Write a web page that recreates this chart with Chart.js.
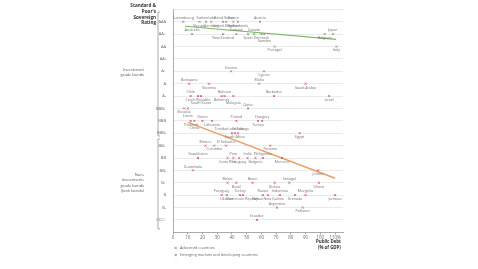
<!DOCTYPE html>
<html>
<head>
<meta charset="utf-8">
<script src="https://cdn.jsdelivr.net/npm/chart.js@4.4.1/dist/chart.umd.min.js"></script>
<style>
html, body { margin: 0; padding: 0; background: #fff; }
</style>
</head>
<body>
<canvas id="grafico" width="478" height="269"></canvas>
<script>
// escala de notas, de baixo para cima
const notas = ['', 'CCC+', 'B-', 'B', 'B+', 'BB-', 'BB', 'BB+', 'BBB-', 'BBB', 'BBB+', 'A-', 'A', 'A+', 'AA-', 'AA', 'AA+', 'AAA', ''];
const ticksX = [0, 10, 20, 30, 40, 50, 60, 70, 80, 90, 100, 110];
const rotulosX = ['0', '10', '20', '30', '40', '50', '60', '70', '80', '90', '100', '110%'];

// paises avancados
const avancadosNomes = ['Luxembourg', 'Norway', 'Switzerland', 'Germany', 'United States', 'United Kingdom', 'France', 'Netherlands', 'Austria',
  'Australia', 'New Zealand', 'Iceland', 'Spain', 'Canada', 'Denmark', 'Sweden', 'Belgium', 'Japan',
  'Portugal', 'Italy', 'Estonia', 'Cyprus', 'Malta', 'Israel'];
const avancadosDivida = [7, 18, 22.5, 26, 34, 36, 41, 44, 59,
  13, 34, 43, 51, 55, 60, 62, 103, 108.5,
  69, 111, 39.4, 61.8, 58.5, 106];
const avancadosNota = ['AAA', 'AAA', 'AAA', 'AAA', 'AAA', 'AAA', 'AAA', 'AAA', 'AAA',
  'AA+', 'AA+', 'AA+', 'AA+', 'AA+', 'AA+', 'AA+', 'AA+', 'AA+',
  'AA', 'AA', 'A+', 'A+', 'A', 'A-'];

// emergentes e em desenvolvimento
const emergentesNomes = ['Botswana', 'Slovenia', 'Saudi Arabia',
  'Chile', 'Czech Republic', 'South Korea', 'Bahamas', 'Bahrain', 'Malaysia', 'Barbados',
  'Latvia', 'Slovakia', 'Qatar',
  'Thailand', 'China', 'Oman', 'Lithuania', 'Poland', 'Turkey', 'Hungary',
  'Trinidad and Tobago', 'South Africa', 'Croatia', 'Egypt',
  'Mexico', 'Colombia', 'El Salvador', 'Panama',
  'Kazakhstan', 'Costa Rica', 'Peru', 'Uruguay', 'India', 'Bulgaria', 'Philippines', 'Morocco',
  'Guatemala', 'Jordan',
  'Belize', 'Brazil', 'Benin', 'Bolivia', 'Senegal', 'Ghana',
  'Paraguay', 'Ukraine', 'Turkey', 'Dominican Republic', 'Russia', 'Papua New Guinea', 'Indonesia', 'Grenada', 'Mongolia', 'Jamaica',
  'Argentina', 'Pakistan',
  'Ecuador'];
const emergentesDivida = [11, 24.5, 90,
  12, 17, 19, 33, 35, 41, 68.6,
  10, 7.5, 51,
  12, 14.5, 20, 26.5, 43, 57.7, 60.5,
  40, 42, 44, 86,
  22, 28, 36, 66,
  17, 37, 41, 45, 50.6, 56, 61, 74,
  13.6, 98.5,
  37, 43, 54, 69, 79, 99,
  33, 36.5, 45.5, 47.5, 61, 64.5, 72.6, 82.8, 90, 110,
  70.6, 88,
  57];
const emergentesNota = ['A', 'A', 'A',
  'A-', 'A-', 'A-', 'A-', 'A-', 'A-', 'A-',
  'BBB+', 'BBB+', 'BBB+',
  'BBB', 'BBB', 'BBB', 'BBB', 'BBB', 'BBB', 'BBB',
  'BBB-', 'BBB-', 'BBB-', 'BBB-',
  'BB+', 'BB+', 'BB+', 'BB+',
  'BB', 'BB', 'BB', 'BB', 'BB', 'BB', 'BB', 'BB',
  'BB-', 'BB-',
  'B+', 'B+', 'B+', 'B+', 'B+', 'B+',
  'B', 'B', 'B', 'B', 'B', 'B', 'B', 'B', 'B', 'B',
  'B-', 'B-',
  'CCC+'];

// linhas de tendencia
const tendAvancadosX = [8.1, 110.7];
const tendAvancadosY = [16.64, 15.58];
const tendEmergentesX = [10.2, 110];
const tendEmergentesY = [8.88, 4.37];

const fonte = "'Open Sans', sans-serif";

function pontos(nomes, divida, nota) {
  return nomes.map((n, i) => ({ x: divida[i], y: notas.indexOf(nota[i]), nome: n }));
}
function linha(xs, ys) {
  return xs.map((x, i) => ({ x: x, y: ys[i] }));
}

// nomes dos paises: alterna acima/abaixo na linha, e desvia se bater
const rotulosPaises = {
  id: 'rotulosPaises',
  afterDatasetsDraw(chart) {
    const ctx = chart.ctx;
    const sx = chart.scales.x, sy = chart.scales.y;
    const alt = 3.4;
    const ocupados = [];
    ctx.save();
    ctx.font = '3.6px ' + fonte;
    ctx.fillStyle = '#707070';
    ctx.textAlign = 'center';
    ctx.textBaseline = 'middle';
    const todos = [];
    [0, 1].forEach(d => chart.data.datasets[d].data.forEach(p => todos.push(p)));
    todos.sort((a, b) => b.y - a.y || a.x - b.x);
    let linhaAtual = null, k = 0;
    todos.forEach(p => {
      if (p.y !== linhaAtual) { linhaAtual = p.y; k = 0; }
      const px = sx.getPixelForValue(p.x), py = sy.getPixelForValue(p.y);
      const w = ctx.measureText(p.nome).width;
      const s = k % 2 === 0 ? -1 : 1;
      const opcoes = [py + s * 3.8, py - s * 3.8, py + s * 7.2, py - s * 7.2];
      let yEscolhido = opcoes[0];
      for (const yy of opcoes) {
        if (yy < chart.chartArea.top + 2) continue;
        const bate = ocupados.some(b => Math.abs(b.x - px) < (b.w + w) / 2 + 0.6 && Math.abs(b.y - yy) < alt);
        if (!bate) { yEscolhido = yy; break; }
      }
      ocupados.push({ x: px, y: yEscolhido, w: w });
      ctx.fillText(p.nome, px, yEscolhido);
      k++;
    });
    ctx.restore();
  }
};

// titulos, chaves e legenda
const extras = {
  id: 'extras',
  afterDraw(chart) {
    const ctx = chart.ctx;
    ctx.save();
    ctx.fillStyle = '#333';
    ctx.textAlign = 'right';
    ctx.textBaseline = 'middle';
    ctx.font = 'bold 4.6px ' + fonte;
    ['Standard &', "Poor's", 'Sovereign', 'Rating'].forEach((t, i) => ctx.fillText(t, 156, 6 + i * 5.7));

    ctx.font = '4px ' + fonte;
    ctx.fillStyle = '#555';
    ['Investment', 'grade bonds'].forEach((t, i) => ctx.fillText(t, 144, 70 + i * 5));
    ['Non-', 'investment-', 'grade bonds', '(Junk bonds)'].forEach((t, i) => ctx.fillText(t, 144, 175 + i * 5.2));

    ctx.strokeStyle = '#888';
    ctx.lineWidth = 0.7;
    ctx.beginPath();
    ctx.moveTo(160, 12); ctx.lineTo(158, 12); ctx.lineTo(158, 136); ctx.lineTo(160, 136);
    ctx.moveTo(160, 139); ctx.lineTo(158, 139); ctx.lineTo(158, 229); ctx.lineTo(160, 229);
    ctx.stroke();

    ctx.fillStyle = '#333';
    ctx.textAlign = 'left';
    ctx.font = 'bold 4.4px ' + fonte;
    ctx.fillText('Public Debt', 316, 242);
    ctx.fillText('(% of GDP)', 318, 247.5);

    ctx.font = '3.8px ' + fonte;
    ctx.fillStyle = '#666';
    ctx.fillText('Advanced countries', 180, 248);
    ctx.fillText('Emerging markets and developing countries', 180, 255);
    ctx.lineWidth = 0.8;
    [['#8a8a8a', 248], ['#d0566a', 255]].forEach(([c, y]) => {
      ctx.strokeStyle = c;
      ctx.beginPath();
      ctx.moveTo(174.5, y - 1.2); ctx.lineTo(176.9, y + 1.2);
      ctx.moveTo(176.9, y - 1.2); ctx.lineTo(174.5, y + 1.2);
      ctx.stroke();
    });
    ctx.restore();
  }
};

const grafico = new Chart(document.getElementById('grafico'), {
  type: 'scatter',
  data: {
    datasets: [{
      label: 'Advanced countries',
      data: pontos(avancadosNomes, avancadosDivida, avancadosNota),
      pointStyle: 'crossRot',
      radius: 1.3,
      borderWidth: 0.9,
      borderColor: '#8a8a8a'
    }, {
      label: 'Emerging markets and developing countries',
      data: pontos(emergentesNomes, emergentesDivida, emergentesNota),
      pointStyle: 'crossRot',
      radius: 1.3,
      borderWidth: 0.9,
      borderColor: '#d0566a'
    }, {
      type: 'line',
      data: linha(tendAvancadosX, tendAvancadosY),
      borderColor: '#7cb867',
      borderWidth: 1.2,
      pointRadius: 0,
      order: 5
    }, {
      type: 'line',
      data: linha(tendEmergentesX, tendEmergentesY),
      borderColor: '#eba062',
      borderWidth: 1.5,
      pointRadius: 0,
      order: 5
    }]
  },
  options: {
    responsive: false,
    animation: false,
    devicePixelRatio: 1,
    layout: { padding: { top: 1, right: 135, left: 0, bottom: 0 } },
    plugins: { legend: { display: false }, tooltip: { enabled: false } },
    scales: {
      x: {
        type: 'linear',
        min: 0,
        max: 115.4,
        afterFit: s => { s.height = 36.7; },
        afterBuildTicks: s => { s.ticks = ticksX.map(v => ({ value: v })); },
        grid: { drawOnChartArea: false, drawTicks: true, tickLength: 2, color: '#999' },
        border: { color: '#999', width: 0.8 },
        ticks: {
          padding: 1,
          font: { size: 4.4, family: fonte },
          color: '#666',
          maxRotation: 0,
          callback: (v, i) => rotulosX[i]
        }
      },
      y: {
        type: 'linear',
        min: 0,
        max: 18,
        afterFit: s => { s.width = 173; },
        afterBuildTicks: s => { s.ticks = notas.map((n, i) => ({ value: i })); },
        grid: { drawTicks: false, color: '#dcdcdc', lineWidth: 0.6 },
        border: { color: '#999', width: 0.8 },
        ticks: {
          padding: 7,
          font: { size: 4, family: fonte },
          color: '#666',
          callback: v => notas[v]
        }
      }
    }
  },
  plugins: [rotulosPaises, extras]
});
</script>
</body>
</html>
